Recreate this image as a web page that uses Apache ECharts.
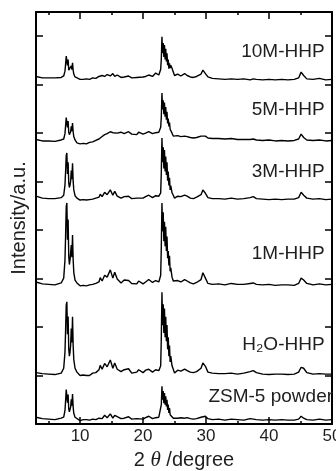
<!DOCTYPE html>
<html>
<head>
<meta charset="utf-8">
<script src="https://cdn.jsdelivr.net/npm/echarts@6/dist/echarts.min.js"></script>
<style>
  html, body { margin: 0; padding: 0; background: #fff; }
  #chart { width: 336px; height: 471px; }
</style>
</head>
<body>
<div id="chart"></div>
<script>
// 2theta grid (degree), shared by every pattern; denser around the 8 and 23 degree reflections
const twoTheta = [3, 4, 5, 6, 7,
  7.4, 7.6, 7.7, 7.8, 7.9, 8.0, 8.1, 8.2, 8.3, 8.4, 8.5, 8.6, 8.7, 8.8, 8.9, 9.0, 9.2, 9.5,
  10, 10.5, 11, 11.5, 12, 12.5, 13, 13.2, 13.5, 13.9, 14.3, 14.8, 15.2, 15.5, 15.9, 16.5, 17, 17.7, 18.2, 19, 19.3, 20,
  20.4, 20.9, 21.5, 22, 22.5,
  22.8, 22.9, 23.0, 23.1, 23.2, 23.3, 23.4, 23.5, 23.6, 23.7, 23.8, 23.9, 24.0, 24.1, 24.2, 24.3, 24.4, 24.6, 24.8,
  25.0, 25.5, 26, 26.6, 27, 27.5, 28, 28.5, 29.2, 29.5, 29.9, 30.3, 31, 32, 33, 34, 35, 36, 37, 37.5, 38, 39, 40,
  41, 42, 43, 44, 44.7, 45.1, 45.5, 46, 47, 48, 49, 50];

// intensities above each pattern's own baseline (a.u.)
const zsm5 = [0.6, 0.3, 0.2, 0.1, 0.4,
  0.6, 2.0, 4.0, 6.3, 6.6, 3.6, 5.3, 2.3, 1.7, 2.0, 2.7, 4.3, 3.0, 5.4, 2.7, 1.4, 0.6, 0.3,
  -0.1, 0.1, 0.1, 0.0, 0.2, 0.1, 0.4, 0.8, 0.3, 1.0, 0.5, 1.3, 0.4, 1.0, 0.7, 0.3, 0.4, 0.7, 0.2, 0.3, 0.6, 0.2,
  0.5, 0.8, 0.3, 0.5, 0.6,
  0.7, 3.2, 7.0, 4.2, 6.0, 3.5, 5.6, 3.2, 4.9, 2.8, 4.2, 2.1, 3.2, 1.5, 2.5, 1.1, 1.5, 0.7, 0.4,
  0.2, 0.4, 0.5, 0.4, 0.5, 0.3, 0.2, 0.3, 0.6, 1.0, 0.8, 0.3, 0.1, 0.2, 0.0, 0.2, 0.1, 0.0, 0.3, 0.2, 0.1, 0.0, 0.1,
  0.0, 0.1, 0.0, 0.0, 0.2, 0.8, 0.4, 0.1, 0.0, 0.2, 0.0, 0.1];
const h2oHHP = [0.3, 0.1, 0.0, -0.1, 0.2,
  1.2, 4.5, 9.0, 14.2, 14.9, 8.2, 11.9, 5.2, 3.7, 4.5, 5.9, 9.4, 6.5, 11.8, 5.9, 3.0, 1.2, 0.4,
  -0.3, -0.2, -0.3, -0.3, 0.2, 0.3, 0.9, 1.8, 1.0, 2.2, 1.5, 2.9, 1.2, 2.3, 1.0, 0.5, 0.9, 1.1, 0.2, 0.4, 0.9, 0.3,
  0.8, 1.0, 0.4, 0.9, 0.7,
  1.7, 7.6, 16.9, 10.1, 14.4, 8.5, 13.5, 7.6, 11.8, 6.8, 10.1, 5.1, 7.6, 3.7, 5.9, 2.5, 3.7, 1.7, 1.0,
  0.2, 0.8, 0.6, 1.0, 0.7, 0.4, 0.3, 0.5, 1.2, 2.3, 1.6, 0.4, 0.2, 0.1, 0.1, 0.2, 0.0, 0.2, 0.5, 0.7, 0.3, 0.0, -0.1,
  0.0, 0.0, -0.1, 0.0, 0.4, 1.4, 1.2, 0.3, 0.0, 0.1, 0.0, 0.0];
const hhp1M = [0.6, 0.2, 0.1, 0.0, 0.4,
  1.4, 5.1, 10.1, 16.1, 16.9, 9.3, 13.5, 5.9, 4.2, 5.1, 5.2, 8.2, 5.7, 10.3, 5.2, 2.6, 1.0, 0.4,
  -0.2, -0.1, -0.2, 0.0, 0.1, 0.3, 0.6, 1.5, 0.8, 2.0, 1.6, 3.1, 1.4, 2.6, 1.2, 0.4, 1.0, 0.9, 0.3, 0.2, 0.8, 0.2,
  0.6, 1.1, 0.5, 0.9, 0.6,
  2.0, 8.0, 16.9, 11.0, 15.0, 9.0, 13.0, 8.0, 12.0, 7.0, 10.0, 5.5, 7.0, 4.0, 6.0, 2.8, 3.5, 1.6, 0.8,
  0.4, 0.9, 0.6, 1.1, 0.8, 0.4, 0.2, 0.5, 1.1, 2.5, 1.4, 0.3, 0.1, 0.2, 0.0, 0.3, 0.1, 0.1, 0.3, 0.4, 0.1, 0.0, 0.1,
  -0.1, 0.0, 0.0, -0.1, 0.3, 1.4, 1.0, 0.3, 0.0, 0.2, 0.0, 0.1];
const hhp3M = [0.6, 0.2, 0.1, 0.1, 0.3,
  0.8, 2.9, 5.7, 9.0, 9.5, 5.2, 7.6, 3.3, 2.4, 2.9, 3.7, 5.9, 4.1, 7.4, 3.7, 1.9, 0.7, 0.2,
  -0.2, -0.1, -0.2, -0.1, 0.0, 0.2, 0.4, 1.0, 0.5, 1.4, 0.9, 1.9, 0.8, 1.6, 0.6, 0.2, 0.5, 0.6, 0.1, 0.2, 0.5, 0.2,
  0.5, 0.8, 0.3, 0.7, 0.6,
  1.3, 5.7, 12.6, 7.6, 10.7, 6.3, 10.1, 5.7, 8.8, 5.0, 7.6, 3.8, 5.7, 2.8, 4.4, 1.9, 2.8, 1.3, 0.8,
  0.2, 0.6, 0.5, 0.8, 0.6, 0.2, 0.1, 0.4, 0.9, 1.9, 1.2, 0.3, 0.1, 0.1, 0.0, 0.2, 0.0, 0.1, 0.3, 0.5, 0.1, 0.0, -0.1,
  0.0, -0.1, 0.0, 0.0, 0.3, 1.4, 0.8, 0.2, 0.0, 0.1, -0.1, 0.0];
const hhp5M = [0.3, 0.0, 0.0, -0.1, 0.2,
  0.4, 1.5, 3.1, 4.8, 5.1, 2.8, 4.1, 1.8, 1.3, 1.5, 1.9, 3.0, 2.0, 3.7, 1.9, 0.9, 0.2, -0.4,
  -0.6, -0.5, -0.6, -0.3, -0.2, 0.1, 0.4, 0.7, 0.9, 1.3, 1.5, 1.9, 1.7, 2.1, 1.6, 1.8, 1.5, 1.9, 1.4, 1.3, 1.8, 1.4,
  1.6, 1.9, 1.5, 1.7, 1.8,
  2.8, 5.0, 9.9, 6.5, 8.4, 5.5, 7.9, 5.0, 7.0, 4.4, 6.0, 3.6, 4.6, 3.0, 3.8, 2.4, 2.6, 1.6, 1.0,
  0.6, 1.1, 0.9, 1.0, 0.9, 0.7, 0.6, 0.7, 1.0, 1.4, 1.0, 0.6, 0.5, 0.5, 0.4, 0.5, 0.3, 0.3, 0.3, 0.4, 0.2, 0.1, 0.2,
  0.0, 0.1, 0.0, 0.1, 0.4, 1.4, 0.7, 0.2, 0.1, 0.2, 0.0, 0.1];
const hhp10M = [0.3, 0.0, 0.0, 0.0, 0.1,
  0.4, 1.4, 2.8, 4.5, 4.7, 2.6, 3.8, 1.6, 1.2, 1.4, 1.6, 2.5, 1.7, 3.1, 1.6, 0.8, 0.2, -0.2,
  -0.3, -0.3, -0.2, -0.3, 0.0, -0.1, 0.3, 0.2, 0.5, 0.3, 0.7, 0.4, 0.9, 0.3, 0.6, 0.1, 0.2, 0.4, 0.0, 0.1, 0.4, 0.2,
  0.3, 0.6, 0.3, 1.0, 0.6,
  1.8, 4.0, 8.5, 5.1, 7.2, 4.3, 6.8, 3.8, 6.0, 3.4, 5.1, 2.6, 3.8, 1.9, 3.0, 2.0, 2.6, 2.0, 1.2,
  0.5, 0.8, 0.4, 0.9, 0.5, 0.2, 0.1, 0.3, 0.8, 1.6, 0.9, 0.2, -0.1, -0.2, -0.3, -0.2, -0.3, -0.2, -0.4, -0.2, -0.3, -0.4, -0.3,
  -0.4, -0.3, -0.4, -0.3, 0.0, 1.2, 0.5, -0.2, -0.3, -0.1, -0.4, -0.3];

const sampleNames = ['ZSM-5 powder', 'H\u2082O-HHP', '1M-HHP', '3M-HHP', '5M-HHP', '10M-HHP'];
const patterns = [zsm5, h2oHHP, hhp1M, hhp3M, hhp5M, hhp10M];
// vertical stacking offset of each pattern
const offsets = [0.8, 10.3, 28.7, 46.4, 58.4, 71.4];
// where each sample name sits: [2theta, intensity]
const labelAt = [[30.3, 5.6], [48.9, 16.3], [48.9, 35.1], [48.9, 52.0], [48.9, 64.8], [48.9, 76.7]];

const majorTicks = [10, 20, 30, 40, 50];
const minorTicks = [5, 15, 25, 35, 45];

const FONT = 'Liberation Sans, Arial, sans-serif';
const chart = echarts.init(document.getElementById('chart'), null, { renderer: 'canvas' });

const xCommon = {
  type: 'value', min: 3, max: 50, splitLine: { show: false },
  axisLine: { show: false, onZero: false },
  axisLabel: { show: false },
};

const series = patterns.map((vals, i) => ({
  name: sampleNames[i],
  type: 'line',
  xAxisIndex: 0,
  yAxisIndex: 0,
  showSymbol: false,
  symbol: 'none',
  silent: true,
  lineStyle: { color: '#000', width: 1.4 },
  data: twoTheta.map((t, j) => [t, +(vals[j] + offsets[i]).toFixed(2)]),
  markPoint: {
    symbol: 'rect',
    symbolSize: 1,
    itemStyle: { color: 'rgba(0,0,0,0)' },
    silent: true,
    label: {
      show: true,
      position: i === 0 ? 'right' : 'left',
      distance: 0,
      formatter: sampleNames[i],
      color: '#1e1e1e',
      fontFamily: FONT,
      fontSize: 19,
    },
    data: [{ coord: labelAt[i] }],
  },
}));

chart.setOption({
  backgroundColor: '#fff',
  animation: false,
  grid: { left: 36, right: 4, top: 12, bottom: 47, containLabel: false, outerBoundsMode: 'none' },
  xAxis: [
    {
      ...xCommon,
      position: 'bottom',
      axisLine: { show: true, onZero: false, lineStyle: { color: '#000', width: 2 } },
      axisTick: { show: true, inside: true, length: 7, lineStyle: { color: '#000', width: 1.5 }, customValues: majorTicks },
      axisLabel: { show: true, customValues: majorTicks, margin: 4, color: '#1e1e1e', fontFamily: FONT, fontSize: 17 },
      name: '{n|2 }{t|\u03b8}{n| /degree}',
      nameLocation: 'middle',
      nameGap: 26,
      nameTextStyle: {
        rich: {
          n: { fontFamily: FONT, fontSize: 20, color: '#1e1e1e' },
          t: { fontFamily: 'Liberation Serif, serif', fontStyle: 'italic', fontSize: 21, color: '#1e1e1e' },
        },
      },
    },
    {
      ...xCommon,
      position: 'bottom',
      axisTick: { show: true, inside: true, length: 3, lineStyle: { color: '#000', width: 1.5 }, customValues: minorTicks },
    },
    {
      ...xCommon,
      position: 'top',
      axisLine: { show: true, onZero: false, lineStyle: { color: '#000', width: 2 } },
      axisTick: { show: true, inside: true, length: 7, lineStyle: { color: '#000', width: 1.5 }, customValues: majorTicks },
    },
    {
      ...xCommon,
      position: 'top',
      axisTick: { show: true, inside: true, length: 3, lineStyle: { color: '#000', width: 1.5 }, customValues: minorTicks },
    },
  ],
  yAxis: [
    {
      type: 'value', min: 0, max: 85, interval: 10, position: 'left',
      splitLine: { show: false },
      axisLine: { show: true, onZero: false, lineStyle: { color: '#000', width: 2 } },
      axisTick: { show: true, inside: true, length: 7, lineStyle: { color: '#000', width: 1.5 } },
      axisLabel: { show: false },
      name: 'Intensity/a.u.',
      nameLocation: 'middle',
      nameGap: 7,
      nameTextStyle: { fontFamily: FONT, fontSize: 20, color: '#1e1e1e' },
    },
    {
      type: 'value', min: 0, max: 85, interval: 10, position: 'right',
      splitLine: { show: false },
      axisLine: { show: true, onZero: false, lineStyle: { color: '#000', width: 2 } },
      axisTick: { show: true, inside: true, length: 7, lineStyle: { color: '#000', width: 1.5 } },
      axisLabel: { show: false },
    },
  ],
  series: series,
});
</script>
</body>
</html>
